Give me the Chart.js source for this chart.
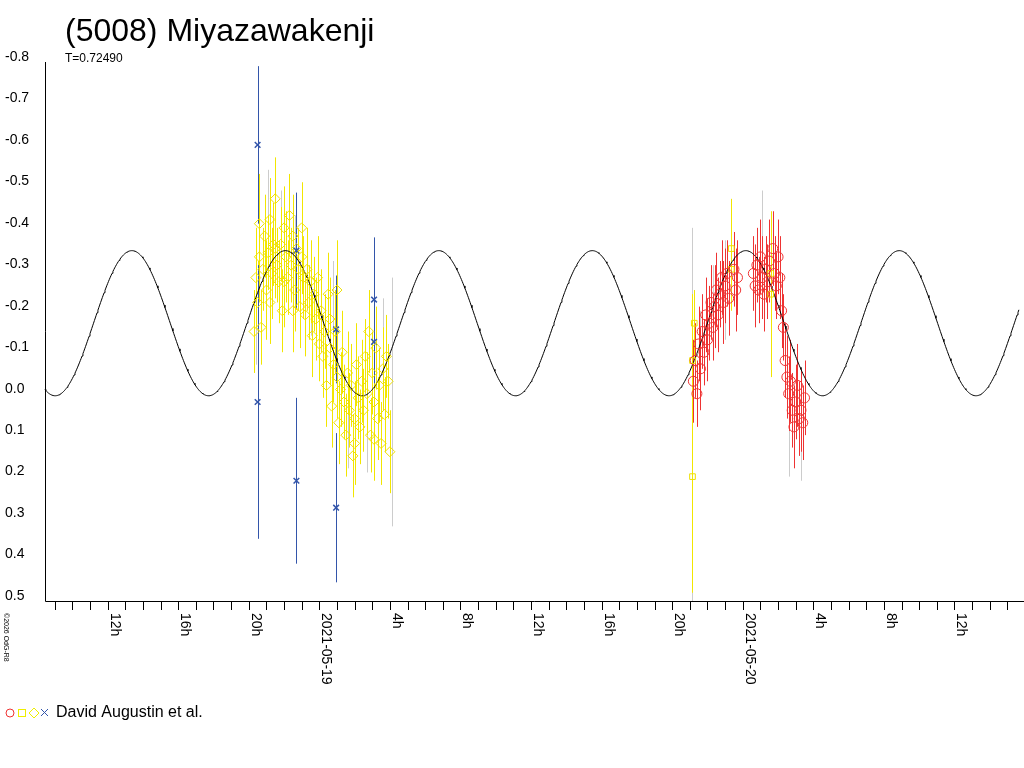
<!DOCTYPE html>
<html>
<head>
<meta charset="utf-8">
<script src="https://cdn.jsdelivr.net/npm/chart.js@4.4.0/dist/chart.umd.min.js"></script>
<style>body{margin:0;background:#fff}canvas{display:block}</style>
</head>
<body>
<canvas id="lc" width="1024" height="768"></canvas>
<script>
// hours counted from 2021-05-18 00:00 UT, magnitude relative, error
var yellowDiamonds = [
  [20.3,-0.15,0.10],[20.4,-0.28,0.12],[20.5,-0.22,0.10],[20.6,-0.33,0.11],[20.7,-0.16,0.09],[20.8,-0.30,0.10],
  [20.9,-0.38,0.10],[21.0,-0.25,0.12],[21.1,-0.34,0.09],[21.2,-0.42,0.10],[21.3,-0.29,0.11],[21.4,-0.36,0.10],
  [21.5,-0.47,0.10],[21.6,-0.31,0.09],[21.7,-0.27,0.10],[21.8,-0.36,0.09],[21.9,-0.20,0.10],[22.0,-0.40,0.10],
  [22.1,-0.33,0.11],[22.2,-0.28,0.09],[22.3,-0.43,0.10],[22.4,-0.31,0.09],[22.5,-0.38,0.10],[22.6,-0.25,0.10],
  [22.7,-0.35,0.09],[22.8,-0.30,0.10],[22.9,-0.21,0.10],[23.0,-0.33,0.09],[23.1,-0.28,0.10],[23.2,-0.19,0.10],
  [23.3,-0.30,0.10],[23.4,-0.22,0.09],[23.5,-0.27,0.10],[23.6,-0.14,0.10],[23.7,-0.24,0.09],[23.8,-0.18,0.10],
  [23.9,-0.28,0.10],[24.0,-0.12,0.09],[24.1,-0.20,0.10],[24.2,-0.09,0.10],[24.3,-0.15,0.09],[24.4,-0.02,0.10],
  [24.5,-0.24,0.10],[24.6,-0.11,0.09],[24.7,0.03,0.10],[24.8,-0.07,0.09],[24.9,-0.15,0.10],[25.0,-0.04,0.10],
  [25.1,0.07,0.10],[25.2,-0.01,0.09],[25.3,-0.10,0.10],[25.4,0.02,0.09],[25.5,0.10,0.10],[25.6,-0.05,0.10],
  [25.7,0.04,0.09],[25.8,-0.02,0.10],[25.9,0.15,0.10],[26.0,0.06,0.09],[26.1,-0.07,0.10],[26.2,0.01,0.10],
  [26.3,0.08,0.09],[26.4,-0.03,0.10],[26.5,0.04,0.10],[26.6,-0.09,0.09],[26.7,0.00,0.10],[26.8,-0.15,0.10],
  [26.9,0.10,0.09],[27.0,-0.05,0.10],[27.1,0.02,0.09],[27.2,-0.11,0.10],[27.3,0.06,0.10],[27.4,-0.02,0.09],
  [27.5,0.12,0.10],[27.6,-0.06,0.10],[27.7,0.05,0.09],[27.8,-0.09,0.10],[27.9,-0.03,0.09],[28.0,0.14,0.10],
  [21.5,-0.35,0.12],[22.0,-0.27,0.11],[22.5,-0.20,0.10],[23.0,-0.40,0.11],[20.6,-0.41,0.12],[21.2,-0.22,0.10],
  [25.0,-0.25,0.12],[24.6,-0.18,0.10],[26.0,0.12,0.10],[27.1,0.11,0.10]
];
var graySeries = [
  [20.4,-0.17,0.10],[21.1,-0.46,0.08],[21.8,-0.40,0.09],[22.6,-0.33,0.10],[23.5,-0.24,0.10],[24.8,-0.22,0.10],
  [25.6,0.08,0.10],[26.7,0.10,0.09],[27.6,-0.13,0.10],[28.1,0.02,0.30],
  [45.1,0.05,0.45],[45.6,-0.10,0.10],[46.3,-0.21,0.10],[47.0,-0.25,0.12],[49.1,-0.38,0.11],[49.6,-0.24,0.10],
  [50.6,0.10,0.10],[51.3,0.12,0.09]
];
var yellowSquares = [
  [45.15,0.20,0.28],[45.15,-0.08,0.16],[45.25,-0.17,0.08],[47.35,-0.35,0.12],[47.35,-0.30,0.10],[49.58,-0.29,0.11],[49.58,-0.24,0.20]
];
var redCircles = [
  [45.2,-0.03,0.10],[45.3,-0.08,0.09],[45.4,0.00,0.08],[45.5,-0.12,0.09],[45.6,-0.06,0.10],[45.7,-0.15,0.09],
  [45.8,-0.10,0.08],[45.9,-0.19,0.09],[46.0,-0.13,0.10],[46.1,-0.17,0.09],[46.2,-0.22,0.09],[46.3,-0.16,0.08],
  [46.4,-0.21,0.10],[46.5,-0.25,0.09],[46.6,-0.19,0.09],[46.7,-0.24,0.08],[46.8,-0.28,0.09],[46.9,-0.22,0.10],
  [47.0,-0.26,0.09],[47.1,-0.29,0.08],[47.2,-0.23,0.09],[47.5,-0.30,0.09],[47.6,-0.25,0.10],[47.7,-0.28,0.09],
  [48.6,-0.29,0.09],[48.7,-0.26,0.10],[48.8,-0.31,0.09],[48.9,-0.25,0.08],[49.0,-0.33,0.09],[49.1,-0.28,0.10],
  [49.2,-0.24,0.09],[49.3,-0.30,0.08],[49.4,-0.27,0.09],[49.5,-0.32,0.10],[49.7,-0.35,0.09],[49.8,-0.29,0.09],
  [49.9,-0.26,0.08],[50.0,-0.33,0.09],[50.1,-0.28,0.10],[50.2,-0.20,0.09],[50.3,-0.16,0.08],[50.4,-0.08,0.09],
  [50.5,-0.04,0.10],[50.6,0.00,0.09],[50.7,-0.03,0.10],[50.8,0.04,0.09],[50.9,0.08,0.10],[51.0,0.02,0.09],
  [51.1,-0.02,0.10],[51.2,0.06,0.09],[51.3,0.04,0.10],[51.4,0.07,0.09],[51.5,0.01,0.09]
];
var blueStars = [
  [20.5,-0.60,0.19],[20.5,0.02,0.33],[22.7,-0.345,0.14],[22.7,0.21,0.20],[24.95,-0.155,0.13],[24.95,0.275,0.18],[27.1,-0.227,0.15],[27.1,-0.125,0.10]
];

// fitted model: period 0.72490 d, two equal maxima per rotation
var P = 0.72490 * 24 / 2;
var curve = [];
for (var t = 8.45; t <= 63.95; t += 0.05) {
  curve.push({x: t, y: -0.17 - 0.175 * Math.cos(2 * Math.PI * (t - 48.17) / P)});
}

function pts(arr) { return arr.map(function(p) { return {x: p[0], y: p[1], e: p[2]}; }); }

var errorBars = {
  id: 'errorBars',
  beforeDatasetsDraw: function(chart) {
    var ctx = chart.ctx, xs = chart.scales.x, ys = chart.scales.y;
    ctx.save();
    chart.data.datasets.forEach(function(ds) {
      if (!ds.errColor) return;
      ctx.strokeStyle = ds.errColor;
      ctx.lineWidth = 1;
      ds.data.forEach(function(p) {
        var x = Math.round(xs.getPixelForValue(p.x)) + 0.5;
        ctx.beginPath();
        ctx.moveTo(x, Math.max(ys.top, ys.getPixelForValue(p.y - p.e)));
        ctx.lineTo(x, Math.min(ys.bottom, ys.getPixelForValue(p.y + p.e)));
        ctx.stroke();
      });
    });
    ctx.restore();
  }
};

var decor = {
  id: 'decor',
  afterDraw: function(chart) {
    var ctx = chart.ctx, xs = chart.scales.x, ys = chart.scales.y, a = chart.chartArea;
    ctx.save();
    ctx.fillStyle = '#000';
    ctx.strokeStyle = '#000';
    ctx.lineWidth = 1;
    ctx.font = '32px "Liberation Sans", Arial, sans-serif';
    ctx.textBaseline = 'alphabetic';
    ctx.fillText('(5008) Miyazawakenji', 65, 41);
    ctx.font = '12px "Liberation Sans", Arial, sans-serif';
    ctx.fillText('T=0.72490', 65, 62);
    // axes
    ctx.beginPath();
    ctx.moveTo(a.left + 0.5, a.top); ctx.lineTo(a.left + 0.5, a.bottom + 0.5);
    ctx.lineTo(1024, a.bottom + 0.5);
    ctx.stroke();
    // y labels
    ctx.font = '14px "Liberation Sans", Arial, sans-serif';
    ctx.textBaseline = 'bottom';
    for (var v = -8; v <= 5; v++) {
      var yy = ys.getPixelForValue(v / 10);
      ctx.fillText((v / 10).toFixed(1), 5, yy + 2);
    }
    // x ticks and labels
    for (var h = 9; h <= 63; h++) {
      var x = Math.round(xs.getPixelForValue(h)) + 0.5;
      ctx.beginPath(); ctx.moveTo(x, a.bottom); ctx.lineTo(x, a.bottom + 9); ctx.stroke();
      if (h % 4 === 0) {
        var lab = h % 24 === 0 ? (h === 24 ? '2021-05-19' : '2021-05-20') : (h % 24) + 'h';
        ctx.save();
        ctx.translate(x - 1, a.bottom + 12);
        ctx.rotate(Math.PI / 2);
        ctx.textBaseline = 'bottom';
        ctx.fillText(lab, 0, 0);
        ctx.restore();
      }
    }
    // copyright
    ctx.save();
    ctx.font = '7px "Liberation Sans", Arial, sans-serif';
    ctx.translate(2, 613); ctx.rotate(Math.PI / 2);
    ctx.fillText('\u00a92026 OdG-R8', 0, 0);
    ctx.restore();
    // legend
    var ly = 713;
    ctx.lineWidth = 1;
    ctx.strokeStyle = '#ee3333'; ctx.beginPath(); ctx.arc(10, ly, 4, 0, 2 * Math.PI); ctx.stroke();
    ctx.strokeStyle = '#eeee00'; ctx.strokeRect(18.5, ly - 3.5, 7, 7);
    ctx.beginPath(); ctx.moveTo(34, ly - 5); ctx.lineTo(39, ly); ctx.lineTo(34, ly + 5); ctx.lineTo(29, ly); ctx.closePath(); ctx.stroke();
    ctx.strokeStyle = '#3355aa';
    ctx.beginPath(); ctx.moveTo(41, ly - 4); ctx.lineTo(48, ly + 3); ctx.moveTo(48, ly - 4); ctx.lineTo(41, ly + 3); ctx.stroke();
    ctx.font = '16px "Liberation Sans", Arial, sans-serif';
    ctx.fillStyle = '#000'; ctx.textBaseline = 'middle';
    ctx.fillText('David Augustin et al.', 56, ly);
    ctx.restore();
  }
};

var ctx = document.getElementById('lc').getContext('2d');
var lcChart = new Chart(ctx, {
  type: 'scatter',
  data: {
    datasets: [
      {data: pts(graySeries), errColor: '#cccccc', pointStyle: 'rectRot', radius: 0, borderColor: '#cccccc', backgroundColor: 'transparent'},
      {data: pts(yellowDiamonds), errColor: '#f2e600', pointStyle: 'rectRot', radius: 5, borderWidth: 1, borderColor: '#eee000', backgroundColor: 'transparent'},
      {data: pts(redCircles), errColor: '#ee3333', pointStyle: 'circle', radius: 5, borderWidth: 1, borderColor: '#ee3333', backgroundColor: 'transparent'},
      {data: pts(yellowSquares), errColor: '#f2e600', pointStyle: 'rect', radius: 4, borderWidth: 1, borderColor: '#eee000', backgroundColor: 'transparent'},
      {data: pts(blueStars), errColor: '#3355aa', pointStyle: 'crossRot', radius: 4, borderWidth: 1.5, borderColor: '#3355aa', backgroundColor: 'transparent'},
      {type: 'line', data: curve, borderColor: '#000', borderWidth: 1, pointRadius: 0, fill: false, clip: false}
    ]
  },
  options: {
    responsive: false,
    animation: false,
    layout: {padding: {top: 62}},
    plugins: {legend: {display: false}, tooltip: {enabled: false}},
    scales: {
      x: {type: 'linear', min: 8.45, max: 63.6, ticks: {display: false}, grid: {display: false}, border: {display: false},
          afterFit: function(s) { s.height = 167; }},
      y: {min: -0.8, max: 0.5, reverse: true, ticks: {display: false}, grid: {display: false}, border: {display: false},
          afterFit: function(s) { s.width = 45; }}
    }
  },
  plugins: [errorBars, decor]
});
</script>
</body>
</html>
